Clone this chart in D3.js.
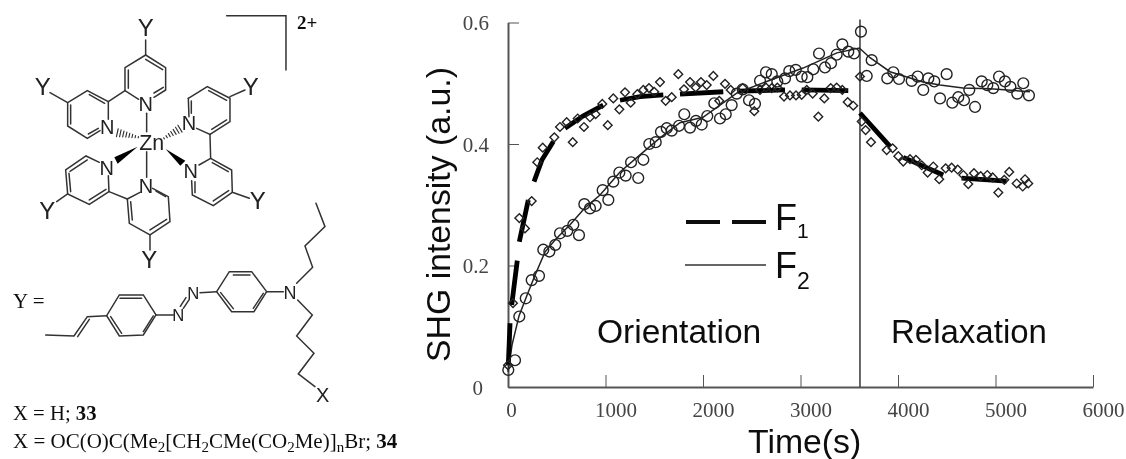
<!DOCTYPE html>
<html>
<head>
<meta charset="utf-8">
<title>SHG intensity of Zn complexes</title>
<script src="https://cdn.jsdelivr.net/npm/d3@7"></script>
<style>
  html, body { margin: 0; padding: 0; background: #fff; }
  svg { display: block; }
  .serif { font-family: "Liberation Serif", serif; }
  .sans { font-family: "Liberation Sans", sans-serif; }
  .axis path, .axis line { stroke: #555; }
  .axis text { font-family: "Liberation Serif", serif; font-size: 21px; fill: #444; }
</style>
</head>
<body>
<svg id="fig" width="1126" height="459">
  <defs><filter id="soft" x="0" y="0" width="100%" height="100%"><feGaussianBlur stdDeviation="0.45"/></filter></defs>
</svg>
<script>
// F1 points (diamonds)
var f1Time = [0,51,116,174,243,300,356,475,533,602,664,715,779,841,899,967,1023,1080,1142,1200,1258,1326,1388,1446,1500,1559,1617,1679,1747,1805,1867,1925,1979,2038,2106,2167,2226,2284,2407,2526,2585,2646,2705,2762,2831,2892,2954,3012,3064,3125,3183,3244,3310,3371,3429,3484,3541,3610,3628,3668,3723,3884,3945,4003,4054,4123,4184,4243,4304,4362,4423,4489,4550,4612,4670,4721,4779,4848,4916,4971,5029,5090,5141,5217,5279,5303,5336];
var f1Value = [.036,.138,.278,.261,.306,.370,.394,.411,.428,.436,.403,.442,.428,.444,.449,.466,.431,.475,.457,.485,.468,.482,.489,.492,.486,.502,.471,.477,.515,.490,.502,.493,.502,.497,.512,.471,.499,.489,.492,.454,.489,.493,.492,.493,.478,.480,.480,.481,.489,.483,.445,.475,.492,.493,.489,.469,.463,.511,.437,.423,.403,.390,.393,.380,.371,.375,.374,.365,.353,.363,.342,.360,.361,.358,.349,.334,.352,.347,.349,.345,.320,.341,.354,.335,.330,.342,.335];

// F2 points (circles)
var f2Time = [3,72,116,182,243,318,362,424,485,533,608,670,728,783,841,899,971,1029,1080,1142,1207,1262,1336,1388,1449,1515,1569,1628,1679,1754,1808,1867,1928,1987,2044,2116,2174,2233,2294,2346,2407,2472,2533,2585,2646,2705,2762,2841,2885,2951,3012,3070,3131,3190,3251,3313,3371,3429,3490,3549,3620,3679,3730,3890,3952,4010,4140,4202,4259,4311,4372,4431,4499,4557,4618,4677,4731,4790,4858,4916,4977,5036,5097,5153,5223,5285,5343];
var f2Value = [.028,.044,.116,.146,.176,.183,.226,.223,.234,.253,.257,.267,.250,.301,.294,.298,.324,.308,.338,.353,.348,.370,.344,.374,.400,.403,.420,.426,.422,.430,.449,.427,.438,.432,.446,.467,.442,.449,.464,.483,.490,.472,.466,.504,.518,.515,.503,.508,.520,.522,.511,.510,.523,.549,.526,.533,.547,.564,.552,.549,.585,.512,.538,.508,.518,.507,.504,.511,.489,.508,.503,.475,.515,.468,.477,.472,.489,.461,.503,.497,.492,.511,.503,.494,.483,.500,.480];

// fit curves, null = gap in the dashed F1 fit
var f1FitTime = [3,21,null,38,95,null,116,208,null,267,349,465,null,585,769,977,null,1149,1354,1593,null,1764,2208,null,2362,2841,null,3012,3490,null,3610,3918,null,4054,4464,null,4652,5114];
var f1FitValue = [.036,.105,null,.135,.208,null,.239,.308,null,.338,.374,.404,null,.426,.446,.464,null,.472,.478,.481,null,.482,.486,null,.487,.489,null,.489,.488,null,.451,.396,null,.378,.349,null,.344,.339];
var f2FitTime = [0,41,113,195,277,379,482,636,790,944,1149,1354,1559,1764,2000,2349,2687,3026,3374,3603,3713,3918,4256,4431,4667,4944,5354];
var f2FitValue = [.025,.069,.117,.151,.184,.222,.242,.267,.295,.316,.354,.382,.410,.435,.444,.484,.505,.525,.550,.558,.542,.519,.502,.497,.492,.491,.486];

var xTicks = [0,1000,2000,3000,4000,5000,6000];
var yTicks = [0,0.2,0.4,0.6];
var switchTime = 3610;

var svg = d3.select("#fig");
var root = svg.append("g").attr("filter","url(#soft)");
root.append("rect").attr("width",1126).attr("height",459).attr("fill","#fff");

var x = d3.scaleLinear().domain([0,6000]).range([508,1093]);
var y = d3.scaleLinear().domain([0,0.6]).range([387,22.5]);

var chart = root.append("g");

// axes, ticks point inward
var xAxis = chart.append("g").attr("class","axis")
  .attr("transform","translate(0,387)")
  .call(d3.axisBottom(x).tickValues(xTicks).tickSizeInner(-12).tickSizeOuter(0).tickFormat(d3.format("d")));
xAxis.select(".domain").attr("stroke-width",2);
xAxis.selectAll("text").attr("y",30).attr("dy",0).attr("dx",function(d){ return d == 0 ? 3 : 10; });

var yAxis = chart.append("g").attr("class","axis")
  .attr("transform","translate(508,0)")
  .call(d3.axisRight(y).tickValues(yTicks).tickSizeInner(11).tickSizeOuter(0).tickFormat(function(d){ return d == 0 ? "0" : d3.format(".1f")(d); }));
yAxis.select(".domain").attr("stroke-width",2);
yAxis.selectAll("text").attr("text-anchor","end").attr("x",function(d){ return d == 0 ? -25 : -19; }).attr("dy",7);

chart.append("line")
  .attr("x1",x(switchTime)).attr("x2",x(switchTime))
  .attr("y1",y(0.605)).attr("y2",y(0))
  .attr("stroke","#444").attr("stroke-width",1.6);

// fit curves
var fit = d3.line()
  .defined(function(d){ return d[0] !== null; })
  .x(function(d){ return x(d[0]); })
  .y(function(d){ return y(d[1]); });

chart.append("path").datum(d3.zip(f2FitTime,f2FitValue))
  .attr("d",fit).attr("fill","none").attr("stroke","#222").attr("stroke-width",1.5);
chart.append("path").datum(d3.zip(f1FitTime,f1FitValue))
  .attr("d",fit).attr("fill","none").attr("stroke","#000").attr("stroke-width",4.8);

// data points
chart.append("g").selectAll("circle").data(d3.zip(f2Time,f2Value)).join("circle")
  .attr("cx",function(d){ return x(d[0]); })
  .attr("cy",function(d){ return y(d[1]); })
  .attr("r",5.4).attr("fill","none").attr("stroke","#222").attr("stroke-width",1.4);

var diamond = d3.symbol().type(d3.symbolSquare).size(38);
chart.append("g").selectAll("path").data(d3.zip(f1Time,f1Value)).join("path")
  .attr("d",diamond)
  .attr("transform",function(d){ return "translate("+x(d[0])+","+y(d[1])+") rotate(45)"; })
  .attr("fill","none").attr("stroke","#222").attr("stroke-width",1.4);

// legend
chart.append("line").attr("x1",686).attr("x2",720).attr("y1",222).attr("y2",222).attr("stroke","#111").attr("stroke-width",4);
chart.append("line").attr("x1",732).attr("x2",766).attr("y1",222).attr("y2",222).attr("stroke","#111").attr("stroke-width",4);
chart.append("line").attr("x1",685).attr("x2",766).attr("y1",265).attr("y2",265).attr("stroke","#333").attr("stroke-width",1.6);

function label(parent,cls,txt,px,py,size,anchor){
  return parent.append("text").attr("class",cls).attr("x",px).attr("y",py)
    .attr("font-size",size).attr("text-anchor",anchor||"start").attr("fill","#111").text(txt);
}
label(chart,"sans","F",775,229.5,36);
label(chart,"sans","1",797,238,21);
label(chart,"sans","F",775,278,36);
label(chart,"sans","2",797,289,23);
label(chart,"sans","Orientation",597,343,33.6);
label(chart,"sans","Relaxation",891,343,33);
label(chart,"sans","Time(s)",748,453,33.8);
chart.append("text").attr("class","sans").attr("transform","translate(450,362) rotate(-90)")
  .attr("font-size",33.8).attr("fill","#111").text("SHG intensity (a.u.)");

// ---- molecule, drawn in the 3x crop coordinates ----
var mol = root.append("g").attr("transform","scale(0.3333)")
  .attr("stroke-linecap","round");

var bonds = [
  [[437,120],[437,165],[497,203],[497,270],[462,292]],
  [[437,165],[375,203],[375,272],[416,298]],
  [[437,178],[488,209]],[[385,210],[385,265]],[[490,262],[462,279]],
  [[375,272],[325,305],[262,272],[203,308],[203,378],[262,415],[300,392]],
  [[325,305],[325,358]],[[268,284],[314,310]],[[212,315],[212,372]],[[265,402],[295,385]],
  [[203,308],[150,278]],
  [[440,340],[440,395]],[[440,455],[440,532]],
  [[690,290],[735,270]],
  [[565,295],[622,260],[690,295],[690,365],[630,403],[590,385]],
  [[565,295],[567,350]],[[574,303],[574,340]],[[626,272],[680,301]],[[680,360],[635,388]],
  [[630,403],[632,475]],
  [[632,475],[695,510],[697,577],[640,617],[577,585],[575,542]],
  [[632,475],[597,495]],[[637,488],[685,515]],[[686,572],[640,603]],[[585,578],[585,545]],
  [[697,577],[748,595]],
  [[298,487],[258,468],[197,510],[203,582],[268,613],[327,575],[325,527]],
  [[262,480],[210,514]],[[207,520],[212,575]],[[268,600],[318,568]],
  [[203,582],[170,605]],
  [[327,575],[382,597]],
  [[382,597],[420,577]],
  [[382,597],[388,670],[450,705],[510,665],[505,590],[458,565]],
  [[392,605],[397,660]],[[450,690],[500,658]],[[497,590],[468,573]],
  [[450,705],[450,750]],
  [[680,47],[858,47],[858,210]],
  // butyl arm
  [[948,610],[975,680],[915,738],[938,802],[890,850]],
  // azo chain
  [[893,900],[937,945],[890,1008],[942,1060],[895,1122],[945,1160]],
  [[800,875],[755,815],[688,815],[650,875],[695,935],[762,935],[800,875]],
  [[700,825],[750,825]],[[662,878],[700,926]],[[760,925],[790,880]],
  [[800,875],[850,875]],[[600,878],[650,875]],
  [[568,898],[550,925]],[[558,893],[541,919]],
  [[520,945],[468,945]],
  [[468,945],[430,1005],[358,1008],[320,947],[358,885],[430,885],[468,945]],
  [[360,895],[425,895]],[[332,950],[365,1000]],[[430,995],[460,948]],
  [[320,947],[262,950],[222,1008],[137,1005]],
  [[268,958],[233,1010]]
];
var bondLine = d3.line();
mol.selectAll("path.bond").data(bonds).join("path").attr("class","bond")
  .attr("d",bondLine).attr("fill","none").attr("stroke","#333").attr("stroke-width",4.5);

// bold wedges
mol.selectAll("polygon").data([
  [[413,440],[353,491],[343,472]],
  [[497,447],[541,497],[556,482]]
]).join("polygon").attr("points",function(d){ return d.join(" "); }).attr("fill","#000");

// hashed wedges
function hashWedge(a,b,w,n){
  var dx = b[0]-a[0], dy = b[1]-a[1], len = Math.sqrt(dx*dx+dy*dy);
  for (var i = 0; i < n; i++){
    var f = i/(n-1), cx = a[0]+dx*f, cy = a[1]+dy*f, h = 2+w*f;
    mol.append("line")
      .attr("x1",cx-dy/len*h).attr("y1",cy+dx/len*h)
      .attr("x2",cx+dy/len*h).attr("y2",cy-dx/len*h)
      .attr("stroke","#333").attr("stroke-width",3.5);
  }
}
hashWedge([415,412],[352,398],10,8);
hashWedge([492,415],[540,386],10,7);

var atoms = [
  ["Y",437,108,72],["Y",128,284,72],["Y",752,285,72],["Y",773,628,72],["Y",142,658,72],["Y",448,804,72],
  ["N",437,333,60],["N",322,403,60],["N",567,391,60],["N",320,524,60],["N",572,534,60],["N",438,579,60],
  ["Zn",455,449,64],
  ["N",870,898,54],["N",580,897,50],["N",535,962,50],["X",968,1206,60]
];
mol.selectAll("text.atom").data(atoms).join("text").attr("class","atom sans")
  .attr("x",function(d){ return d[1]; }).attr("y",function(d){ return d[2]; })
  .attr("font-size",function(d){ return d[3]; })
  .attr("text-anchor","middle").attr("fill","#222")
  .text(function(d){ return d[0]; });

label(root,"serif","2+",297,29,19).attr("font-weight","bold");
label(root,"serif","Y =",13,308,21);

var lineA = label(root,"serif","X = H; ",13,420,20.7);
lineA.append("tspan").attr("font-weight","bold").text("33");

var lineB = label(root,"serif","X = OC(O)C(Me",13,448,21);
[["2","[CH"],["2","CMe(CO"],["2","Me)]"],["n","Br; "]].forEach(function(p){
  lineB.append("tspan").attr("dy",4).attr("font-size",15).text(p[0]);
  lineB.append("tspan").attr("dy",-4).text(p[1]);
});
lineB.append("tspan").attr("font-weight","bold").text("34");
</script>
</body>
</html>
